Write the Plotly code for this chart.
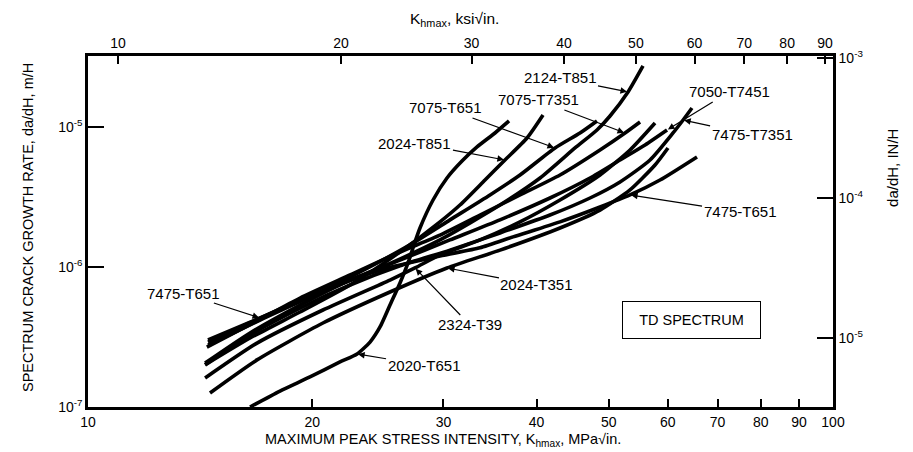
import numpy as np
import plotly.graph_objects as go

# ---- data: K (MPa sqrt m) and da/dH (m/H) ----
K_2020 = [16.50, 18.10, 19.86, 21.79, 22.97, 23.91, 24.66, 25.43, 26.23, 26.89, 27.39, 27.90, 29.05, 30.33, 31.77, 33.28, 35.18, 36.74]
R_2020 = [1.0e-7, 1.30e-7, 1.64e-7, 2.10e-7, 2.39e-7, 2.91e-7, 3.73e-7, 5.35e-7, 7.69e-7, 1.07e-6, 1.44e-6, 1.90e-6, 3.01e-6, 4.32e-6, 5.71e-6, 7.20e-6, 9.06e-6, 1.104e-5]

K_2024T851 = [14.36, 16.50, 19.26, 22.48, 26.23, 29.68, 31.57, 34.11, 36.28, 38.84, 40.81]
R_2024T851 = [2.00e-7, 3.11e-7, 4.77e-7, 7.44e-7, 1.28e-6, 2.10e-6, 2.77e-6, 4.18e-6, 5.81e-6, 8.34e-6, 1.218e-5]

K_7075T651 = [14.49, 17.02, 19.86, 23.18, 27.05, 30.61, 34.64, 38.01, 42.35, 45.75, 48.22]
R_7075T651 = [2.77e-7, 4.18e-7, 6.11e-7, 9.21e-7, 1.44e-6, 2.17e-6, 3.27e-6, 4.54e-6, 7.08e-6, 9.06e-6, 1.104e-5]

K_2124 = [14.49, 17.02, 20.48, 24.66, 29.68, 35.73, 40.44, 45.05, 48.22, 50.20, 53.07, 55.59]
R_2124 = [3.01e-7, 4.32e-7, 6.52e-7, 9.84e-7, 1.56e-6, 2.77e-6, 4.32e-6, 7.08e-6, 9.52e-6, 1.198e-5, 1.778e-5, 2.73e-5]

K_7075T7351 = [14.44, 16.76, 19.26, 22.48, 26.23, 29.68, 33.59, 38.01, 43.01, 48.67, 52.58, 55.08]
R_7075T7351 = [2.68e-7, 4.05e-7, 6.00e-7, 8.77e-7, 1.28e-6, 1.69e-6, 2.35e-6, 3.27e-6, 4.54e-6, 6.85e-6, 9.06e-6, 1.086e-5]

K_2324 = [14.36, 16.86, 20.67, 25.43, 27.47, 29.68, 33.59, 38.01, 43.01, 48.67, 53.40, 57.69]
R_2324 = [1.61e-7, 2.86e-7, 4.93e-7, 8.07e-7, 9.84e-7, 1.22e-6, 1.56e-6, 2.10e-6, 3.01e-6, 4.54e-6, 6.85e-6, 1.068e-5]

K_2024T351 = [14.58, 16.86, 20.67, 25.43, 30.33, 35.73, 43.01, 48.67, 53.40, 57.69, 60.05]
R_2024T351 = [1.26e-7, 2.17e-7, 3.98e-7, 6.63e-7, 9.84e-7, 1.32e-6, 1.90e-6, 2.55e-6, 3.55e-6, 5.35e-6, 7.08e-6]

K_7050 = [14.36, 16.50, 19.26, 22.48, 26.23, 30.61, 35.73, 41.70, 47.19, 51.78, 55.94, 59.87]
R_7050 = [2.06e-7, 3.38e-7, 5.35e-7, 8.07e-7, 1.12e-6, 1.56e-6, 2.17e-6, 3.11e-6, 4.32e-6, 5.81e-6, 7.44e-6, 9.52e-6]

K_7475T7351 = [14.36, 16.50, 19.26, 22.48, 26.23, 30.61, 35.73, 41.70, 47.19, 51.78, 56.81, 60.99, 62.92, 64.67]
R_7475T7351 = [2.00e-7, 3.27e-7, 5.09e-7, 7.44e-7, 1.02e-6, 1.32e-6, 1.75e-6, 2.35e-6, 3.11e-6, 4.05e-6, 5.81e-6, 9.06e-6, 1.122e-5, 1.367e-5]

K_7475T651 = [14.49, 17.02, 20.48, 24.66, 29.68, 33.59, 37.20, 43.01, 48.67, 53.40, 58.59, 65.68]
R_7475T651 = [2.91e-7, 4.32e-7, 6.63e-7, 9.52e-7, 1.20e-6, 1.37e-6, 1.64e-6, 2.10e-6, 2.68e-6, 3.27e-6, 4.18e-6, 6.11e-6]

x_ticks = [10, 20, 30, 40, 50, 60, 70, 80, 90, 100]
x_top_ticks = [10, 20, 30, 40, 50, 60, 70, 80, 90]
y_ticks = [1e-7, 1e-6, 1e-5]
y_tick_text = ["10<sup>-7</sup>", "10<sup>-6</sup>", "10<sup>-5</sup>"]
y2_ticks = [1e-5, 1e-4, 1e-3]
y2_tick_text = ["10<sup>-5</sup>", "10<sup>-4</sup>", "10<sup>-3</sup>"]

FONT = "Liberation Sans, Arial, sans-serif"
LW = 3.6

curves = [
    (K_2020, R_2020), (K_2024T851, R_2024T851), (K_7075T651, R_7075T651),
    (K_2124, R_2124), (K_7075T7351, R_7075T7351), (K_2324, R_2324),
    (K_2024T351, R_2024T351), (K_7050, R_7050), (K_7475T7351, R_7475T7351),
    (K_7475T651, R_7475T651),
]

fig = go.Figure()
for kx, ry in curves:
    fig.add_trace(go.Scatter(x=kx, y=ry, mode="lines",
                             line=dict(color="black", width=LW, shape="spline", smoothing=0.6),
                             showlegend=False, hoverinfo="skip"))
# dummy trace for the secondary axes
fig.add_trace(go.Scatter(x=[], y=[], xaxis="x2", yaxis="y2", showlegend=False))

def label(text, K, R, i, ax, ay):
    fig.add_annotation(x=np.log10(K[i]), y=np.log10(R[i]), xref="x", yref="y", text=text,
                       ax=ax, ay=ay, showarrow=True, arrowhead=2, arrowsize=1.1, arrowwidth=1.2,
                       arrowcolor="black", standoff=1, font=dict(family=FONT, size=15, color="black"))

label("2124-T851", K_2124, R_2124, 10, -68, -14)
label("7075-T7351", K_7075T7351, R_7075T7351, 10, -87, -33)
label("7075-T651", K_7075T651, R_7075T651, 8, -110, -40)
label("2024-T851", K_2024T851, R_2024T851, 8, -90, -17)
label("7050-T7451", K_7050, R_7050, 11, 62, -38)
label("7475-T7351", K_7475T7351, R_7475T7351, 12, 69, 15)
label("7475-T651", K_7475T651, R_7475T651, 9, 110, 17)
label("7475-T651", K_7475T651, R_7475T651, 1, -77, -25)
label("2024-T351", K_2024T351, R_2024T351, 4, 90, 17)
label("2324-T39", K_2324, R_2324, 4, 55, 57)
label("2020-T651", K_2020, R_2020, 4, 67, 11)

def ptext(text, x, y, size, angle=0):
    fig.add_annotation(x=x, y=y, xref="paper", yref="paper", text=text, showarrow=False,
                       xanchor="center", yanchor="middle", textangle=angle,
                       font=dict(family=FONT, size=size, color="black"))

fig.add_annotation(x=0.8107, y=0.2479, xref="paper", yref="paper", text="TD SPECTRUM", showarrow=False,
                   xanchor="center", yanchor="middle",
                   bordercolor="black", borderwidth=1, borderpad=10, width=117, height=16,
                   font=dict(family=FONT, size=14.5, color="black"))

ptext("K<sub>hmax</sub>, ksi√in.", 0.4926, 1.1026, 15.5)
ptext("MAXIMUM PEAK STRESS INTENSITY, K<sub>hmax</sub>, MPa√in.", 0.476, -0.094, 14.5)
ptext("SPECTRUM CRACK GROWTH RATE, da/dH, m/H", -0.0805, 0.51, 14.5, -90)
ptext("da/dH, IN/H", 1.0805, 0.681, 15, -90)

axis_common = dict(showgrid=False, zeroline=False, showline=True, linecolor="black", linewidth=2.5,
                   ticks="inside", tickcolor="black", tickwidth=1.5,
                   tickfont=dict(family=FONT, size=14, color="black"))

fig.update_layout(
    width=913, height=452, margin=dict(l=88, r=80, t=56, b=45),
    paper_bgcolor="white", plot_bgcolor="white", showlegend=False,
    xaxis=dict(type="log", range=[1, 2], tickvals=x_ticks, ticktext=[str(v) for v in x_ticks],
               ticklen=8, **axis_common),
    xaxis2=dict(type="log", range=[0.9595, 1.965], overlaying="x", side="top", anchor="y",
                tickvals=x_top_ticks, ticktext=[str(v) for v in x_top_ticks], ticklen=8, **axis_common),
    yaxis=dict(type="log", range=[-7, -4.493], tickvals=y_ticks, ticktext=y_tick_text, ticklen=16,
               **axis_common),
    yaxis2=dict(type="log", range=[-5.493, -2.986], overlaying="y", side="right", anchor="x",
                tickvals=y2_ticks, ticktext=y2_tick_text, ticklen=16, **axis_common),
)

fig.write_html("out.html")
